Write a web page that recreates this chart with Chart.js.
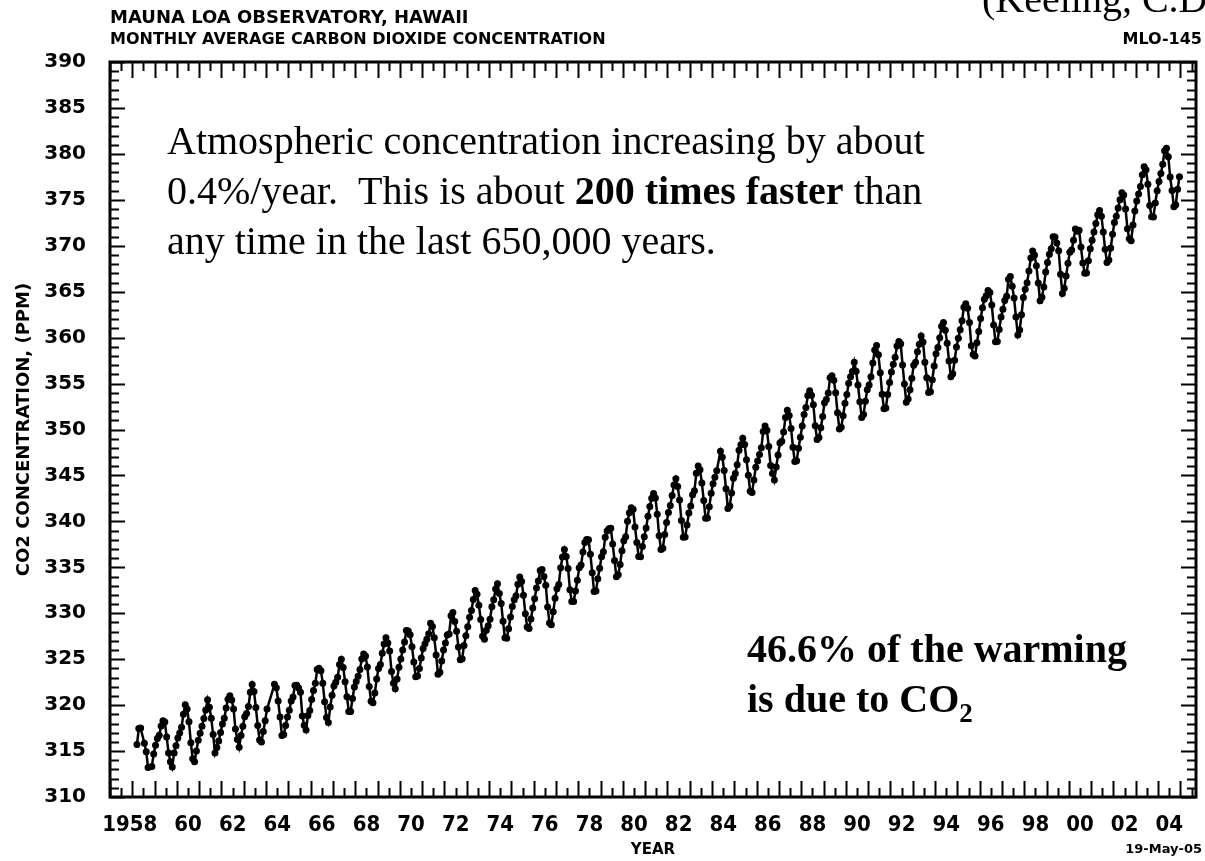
<!DOCTYPE html>
<html>
<head>
<meta charset="utf-8">
<title>Mauna Loa CO2</title>
<script src="https://cdn.jsdelivr.net/npm/chart.js@4.4.0/dist/chart.umd.min.js"></script>
<style>
  html, body { margin: 0; padding: 0; background: #fff; }
  #wrap { width: 1205px; height: 861px; }
</style>
</head>
<body>
<div id="wrap"><canvas id="co2Chart" width="1205" height="861"></canvas></div>
<script>
// monthly averages (ppm), one row per year, Jan..Dec, null = no measurement
const ppm1950s = [
  [null, null, 315.71, 317.45, 317.50, null, 315.86, 314.93, 313.20, null, 313.33, 314.67],
  [315.62, 316.38, 316.71, 317.72, 318.29, 318.15, 316.54, 314.80, 313.84, 313.26, 314.80, 315.58]
];
const ppm1960s = [
  [316.43, 316.97, 317.58, 319.02, 320.03, 319.59, 318.18, 315.91, 314.16, 313.83, 315.00, 316.19],
  [316.93, 317.70, 318.54, 319.48, 320.58, 319.77, 318.57, 316.79, 314.80, 315.38, 316.10, 317.01],
  [317.94, 318.56, 319.68, 320.63, 321.01, 320.55, 319.58, 317.40, 316.26, 315.42, 316.69, 317.69],
  [318.74, 319.08, 319.86, 321.39, 322.25, 321.47, 319.74, 317.77, 316.21, 315.99, 317.12, 318.31],
  [319.57, null, null, null, 322.26, 321.89, 320.44, 318.70, 316.70, 316.79, 317.79, 318.71],
  [319.44, 320.44, 320.89, 322.13, 322.16, 321.87, 321.39, 318.81, 317.81, 317.30, 318.87, 319.42],
  [320.62, 321.59, 322.39, 323.87, 324.01, 323.75, 322.39, 320.37, 318.64, 318.10, 319.79, 321.08],
  [322.07, 322.50, 323.04, 324.42, 325.00, 324.09, 322.55, 320.92, 319.31, 319.31, 320.72, 321.96],
  [322.57, 323.15, 323.89, 325.02, 325.57, 325.36, 324.14, 322.03, 320.41, 320.25, 321.31, 322.84],
  [324.00, 324.42, 325.64, 326.66, 327.34, 326.76, 325.88, 323.67, 322.38, 321.78, 322.85, 324.12]
];
const ppm1970s = [
  [325.03, 325.99, 326.87, 328.13, 328.07, 327.66, 326.35, 324.69, 323.10, 323.16, 323.98, 325.13],
  [326.17, 326.68, 327.18, 327.78, 328.92, 328.57, 327.34, 325.46, 323.36, 323.57, 324.80, 326.01],
  [326.77, 327.63, 327.75, 329.72, 330.07, 329.09, 328.05, 326.32, 324.93, 325.06, 326.50, 327.55],
  [328.54, 329.56, 330.30, 331.50, 332.48, 332.07, 330.87, 329.31, 327.51, 327.18, 328.16, 328.64],
  [329.35, 330.71, 331.48, 332.65, 333.20, 332.16, 331.07, 329.12, 327.32, 327.28, 328.30, 329.58],
  [330.73, 331.46, 331.90, 333.17, 333.94, 333.45, 331.97, 329.95, 328.50, 328.34, 329.37, 330.58],
  [331.59, 332.75, 333.52, 334.64, 334.77, 334.00, 333.06, 330.68, 328.95, 328.75, 330.15, 331.62],
  [332.66, 333.13, 334.95, 336.13, 336.93, 336.17, 334.88, 332.56, 331.29, 331.27, 332.41, 333.60],
  [334.95, 335.25, 336.66, 337.69, 338.03, 338.01, 336.41, 334.41, 332.37, 332.41, 333.75, 334.90],
  [336.14, 336.69, 338.27, 338.95, 339.21, 339.26, 337.54, 335.75, 333.98, 334.19, 335.31, 336.81]
];
const ppm1980s = [
  [337.90, 338.34, 340.01, 340.93, 341.48, 341.33, 339.40, 337.70, 336.19, 336.15, 337.27, 338.32],
  [339.29, 340.55, 341.61, 342.53, 343.03, 342.54, 340.78, 338.44, 336.95, 337.08, 338.58, 339.88],
  [340.96, 341.73, 342.81, 343.97, 344.63, 343.79, 342.32, 340.09, 338.28, 338.29, 339.60, 340.90],
  [341.68, 342.90, 343.33, 345.25, 346.03, 345.63, 344.19, 342.27, 340.35, 340.38, 341.59, 343.05],
  [344.10, 344.79, 345.52, null, 347.63, 346.98, 345.53, 343.55, 341.40, 341.67, 343.10, 344.70],
  [345.21, 346.16, 347.74, 348.34, 349.06, 348.38, 346.72, 345.02, 343.27, 343.13, 344.49, 345.88],
  [346.56, 347.28, 348.01, 349.77, 350.38, 349.93, 348.16, 346.08, 345.22, 344.51, 345.93, 347.22],
  [348.52, 348.73, 349.73, 351.31, 352.09, 351.53, 350.11, 348.08, 346.52, 346.59, 347.96, 349.16],
  [350.39, 351.64, 352.40, 353.69, 354.21, 353.72, 352.69, 350.40, 348.92, 349.13, 350.20, 351.41],
  [352.91, 353.27, 353.96, 355.64, 355.86, 355.37, 353.99, 351.81, 350.05, 350.25, 351.49, 352.85]
];
const ppm1990s = [
  [353.80, 355.04, 355.73, 356.32, 357.32, 356.34, 354.84, 353.01, 351.31, 351.62, 353.07, 354.33],
  [354.84, 355.73, 357.23, 358.66, 359.13, 358.13, 356.19, 353.85, 352.25, 352.35, 353.81, 355.12],
  [356.25, 357.11, 357.86, 359.09, 359.59, 359.33, 357.01, 354.94, 352.96, 353.32, 354.32, 355.57],
  [357.00, 357.31, 358.47, 359.27, 360.19, 359.52, 357.33, 355.64, 354.03, 354.12, 355.41, 356.91],
  [358.24, 358.92, 359.99, 361.23, 361.65, 360.81, 359.38, 357.46, 355.73, 356.07, 357.53, 358.98],
  [359.92, 360.86, 361.83, 363.30, 363.69, 363.19, 361.64, 359.12, 358.17, 357.99, 359.45, 360.68],
  [362.07, 363.24, 364.17, 364.57, 365.13, 364.92, 363.55, 361.38, 359.54, 359.58, 360.89, 362.24],
  [363.09, 364.03, 364.51, 366.35, 366.64, 365.59, 364.31, 362.25, 360.29, 360.82, 362.49, 364.38],
  [365.26, 365.98, 367.24, 368.66, 369.42, 368.99, 367.82, 365.95, 364.02, 364.40, 365.52, 367.13],
  [368.18, 369.07, 369.68, 370.99, 370.96, 370.30, 369.45, 366.90, 364.81, 365.37, 366.72, 368.10]
];
const ppm2000s = [
  [369.29, 369.55, 370.60, 371.82, 371.58, 371.70, 369.86, 368.13, 367.00, 367.03, 368.37, 369.67],
  [370.59, 371.51, 372.43, 373.37, 373.85, 373.22, 371.51, 369.61, 368.18, 368.45, 369.76, 371.24],
  [372.53, 373.20, 374.12, 375.02, 375.76, 375.52, 374.01, 371.85, 370.75, 370.55, 372.25, 373.79],
  [374.88, 375.64, 376.45, 377.73, 378.60, 378.28, 376.70, 374.38, 373.17, 373.14, 374.66, 375.99],
  [377.00, 377.87, 378.88, 380.35, 380.62, 379.69, 377.47, 376.01, 374.25, 374.46, 376.16, 377.51]
];

const labelYears = [1958, 1960, 1962, 1964, 1966, 1968, 1970, 1972, 1974, 1976, 1978, 1980,
  1982, 1984, 1986, 1988, 1990, 1992, 1994, 1996, 1998, 2000, 2002, 2004];
// the century is only written on the first label; trailing spaces pull it left of its year
const yearLabels = ['1958    ', '60', '62', '64', '66', '68', '70', '72', '74', '76', '78', '80',
  '82', '84', '86', '88', '90', '92', '94', '96', '98', '00', '02', '04'];
const ppmTicks = [310, 315, 320, 325, 330, 335, 340, 345, 350, 355, 360, 365, 370, 375, 380, 385, 390];

const decades = [[1958, ppm1950s], [1960, ppm1960s], [1970, ppm1970s], [1980, ppm1980s], [1990, ppm1990s], [2000, ppm2000s]];

const points = [];
decades.forEach(([firstYear, rows]) => {
  rows.forEach((row, i) => {
    row.forEach((v, m) => {
      if (v !== null) points.push({ x: firstYear + i + (m + 0.5) / 12, y: v });
    });
  });
});

const AXIS_FONT = 'DejaVu Sans';
const NUM_FONT = '"DejaVu Sans Condensed", "DejaVu Sans"';
const SERIF = '"Liberation Serif", "Times New Roman", serif';

// frame, inward tick marks and the text blocks around the plot
const decorPlugin = {
  id: 'decor',
  afterDraw(chart) {
    const { ctx, chartArea: a, scales: { x, y } } = chart;
    ctx.save();
    ctx.strokeStyle = '#000';
    ctx.fillStyle = '#000';

    ctx.lineWidth = 2;
    ctx.beginPath();
    for (let v = 1957; v <= 2005.5; v += 0.5) {
      const px = Math.round(x.getPixelForValue(v)) + 0.5;
      const len = Number.isInteger(v) ? 16 : 9;
      ctx.moveTo(px, a.bottom); ctx.lineTo(px, a.bottom - len);
      ctx.moveTo(px, a.top); ctx.lineTo(px, a.top + len);
    }
    for (let v = 310; v <= 390; v++) {
      const py = Math.round(y.getPixelForValue(v)) + 0.5;
      const len = v % 5 === 0 ? 15 : 9;
      ctx.moveTo(a.left, py); ctx.lineTo(a.left + len, py);
      ctx.moveTo(a.right, py); ctx.lineTo(a.right - len, py);
    }
    ctx.stroke();

    ctx.lineWidth = 3;
    ctx.strokeRect(a.left, a.top, a.right - a.left, a.bottom - a.top);

    // header
    ctx.textBaseline = 'middle';
    ctx.textAlign = 'left';
    ctx.font = 'bold 18px ' + AXIS_FONT;
    ctx.fillText('MAUNA LOA OBSERVATORY, HAWAII', 110, 18);
    ctx.font = 'bold 16px ' + AXIS_FONT;
    ctx.fillText('MONTHLY AVERAGE CARBON DIOXIDE CONCENTRATION', 110, 40);
    ctx.textAlign = 'right';
    ctx.fillText('MLO-145', 1202, 40);
    ctx.font = 'bold 13px ' + AXIS_FONT;
    ctx.fillText('19-May-05', 1202, 850);

    ctx.textBaseline = 'alphabetic';
    ctx.textAlign = 'left';
    ctx.font = '40px ' + SERIF;
    ctx.fillText('(Keeling, C.D.', 982, 12);

    // annotation, upper left
    const runs = (x0, yb, parts) => {
      let cx = x0;
      parts.forEach(([txt, bold]) => {
        ctx.font = (bold ? 'bold ' : '') + '40px ' + SERIF;
        ctx.fillText(txt, cx, yb);
        cx += ctx.measureText(txt).width;
      });
      return cx;
    };
    runs(167, 154, [['Atmospheric concentration increasing by about', false]]);
    runs(167, 204, [['0.4%/year.  This is about ', false], ['200 times faster', true], [' than', false]]);
    runs(167, 254, [['any time in the last 650,000 years.', false]]);

    // annotation, lower right
    runs(747, 662, [['46.6% of the warming', true]]);
    const end = runs(747, 712, [['is due to CO', true]]);
    ctx.font = 'bold 27px ' + SERIF;
    ctx.fillText('2', end, 722);

    ctx.restore();
  }
};

new Chart(document.getElementById('co2Chart'), {
  type: 'line',
  data: {
    datasets: [{
      label: 'CO2',
      data: points,
      borderColor: '#000',
      backgroundColor: '#000',
      borderWidth: 2.5,
      pointRadius: 3.5,
      pointBorderWidth: 0,
      pointBackgroundColor: '#000',
      spanGaps: true,
      tension: 0
    }]
  },
  options: {
    responsive: false,
    animation: false,
    layout: { padding: { top: 62, right: 9, left: 0, bottom: 0 } },
    plugins: { legend: { display: false }, tooltip: { enabled: false } },
    scales: {
      x: {
        type: 'linear',
        min: 1957,
        max: 2005.7,
        afterBuildTicks: s => { s.ticks = labelYears.map(v => ({ value: v + 0.5 })); },
        afterFit: s => { s.height = 64; },
        grid: { display: false },
        border: { display: false },
        ticks: {
          autoSkip: false,
          maxRotation: 0,
          padding: 7,
          color: '#000',
          font: { family: NUM_FONT, size: 22, weight: 'bold' },
          callback: (v, i) => yearLabels[i]
        },
        title: {
          display: true,
          text: 'YEAR',
          color: '#000',
          font: { family: AXIS_FONT, size: 15, weight: 'bold' },
          padding: { top: 0, bottom: 2 }
        }
      },
      y: {
        min: 310,
        max: 390,
        afterBuildTicks: s => { s.ticks = ppmTicks.map(v => ({ value: v })); },
        afterFit: s => { s.width = 110; },
        grid: { display: false },
        border: { display: false },
        ticks: {
          autoSkip: false,
          padding: 16,
          color: '#000',
          font: { family: AXIS_FONT, size: 20, weight: 'bold' }
        },
        title: {
          display: true,
          text: 'CO2 CONCENTRATION, (PPM)',
          color: '#000',
          font: { family: AXIS_FONT, size: 18, weight: 'bold' },
          padding: { top: 14, bottom: 0 }
        }
      }
    }
  },
  plugins: [decorPlugin]
});
</script>
</body>
</html>
